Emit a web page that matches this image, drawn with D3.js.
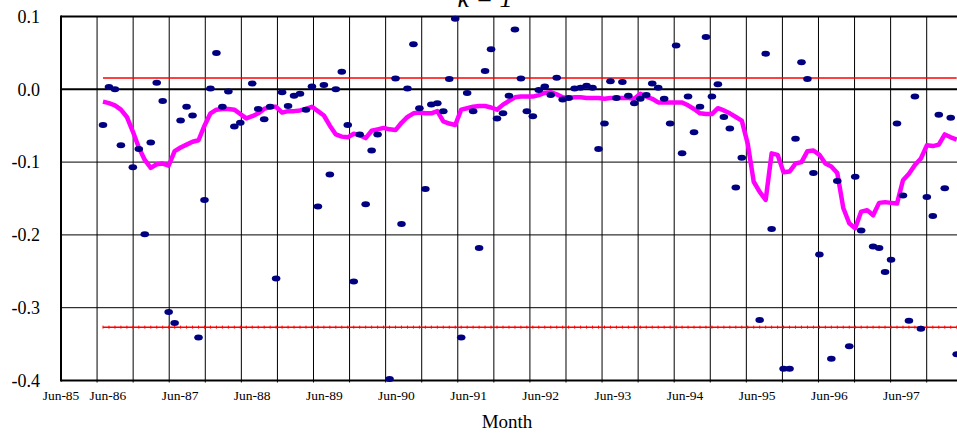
<!DOCTYPE html>
<html><head><meta charset="utf-8">
<script src="https://cdn.jsdelivr.net/npm/d3@7"></script>
<style>body{margin:0;background:#fff}svg{display:block}</style>
</head><body>
<svg id="chart" width="957" height="435"></svg>
<script>
// ---- data (monthly observations, first at Jul-86) ----
const returns = [
 -0.049, 0.003, 0.000,-0.077, null,-0.107,-0.082,-0.199,-0.073, 0.009,
 -0.016,-0.306,-0.321,-0.043,-0.024,-0.036,-0.341,-0.152, 0.001, 0.050,
 -0.024,-0.003,-0.051,-0.046, null, 0.008,-0.027,-0.041,-0.024,-0.260,
 -0.004,-0.023,-0.009,-0.006,-0.028, 0.004,-0.161, 0.006,-0.117, 0.000,
  0.024,-0.049,-0.264,-0.062,-0.158,-0.084,-0.062, null,-0.398, 0.015,
 -0.185, 0.001, 0.062,-0.026,-0.137,-0.021,-0.019,-0.030, 0.014, 0.097,
 -0.341,-0.005,-0.030,-0.218, 0.025, 0.055,-0.040,-0.033,-0.009, 0.082,
  0.015,-0.030,-0.037,-0.001, 0.004,-0.008, 0.016,-0.014,-0.012, 0.001,
  0.002, 0.005, 0.002,-0.082,-0.047, 0.011,-0.012, 0.010,-0.009,-0.019,
 -0.013,-0.008, 0.008, 0.002,-0.013,-0.047, 0.060,-0.088,-0.010,-0.059,
 -0.024, 0.072,-0.010, 0.007,-0.038,-0.054,-0.135,-0.094, null, null,
 -0.317, 0.049,-0.192, null,-0.384,-0.384,-0.068, 0.037, 0.014,-0.115,
 -0.227, null,-0.370,-0.126, null,-0.353,-0.120,-0.194, null,-0.216,
 -0.218,-0.251,-0.234,-0.047,-0.146,-0.318,-0.010,-0.329,-0.148,-0.174,
 -0.035,-0.136,-0.039,-0.364
];
const movingAverage = [
 -0.017,-0.019,-0.022,-0.028,-0.038,-0.058,-0.080,-0.097,-0.108,-0.103,
 -0.102,-0.105,-0.085,-0.080,-0.076,-0.072,-0.070,-0.050,-0.033,-0.028,
 -0.027,-0.027,-0.028,-0.034,-0.040,-0.037,-0.033,-0.027,-0.024,-0.024,
 -0.032,-0.030,-0.030,-0.029,-0.027,-0.024,-0.030,-0.036,-0.050,-0.062,
 -0.065,-0.066,-0.061,-0.063,-0.067,-0.057,-0.055,-0.053,-0.055,-0.056,
 -0.046,-0.038,-0.033,-0.032,-0.033,-0.033,-0.030,-0.044,-0.047,-0.049,
 -0.028,-0.026,-0.024,-0.023,-0.023,-0.025,-0.028,-0.021,-0.016,-0.011,
 -0.010,-0.010,-0.010,-0.008,-0.005,-0.004,-0.007,-0.011,-0.012,-0.011,
 -0.011,-0.012,-0.012,-0.012,-0.013,-0.012,-0.012,-0.012,-0.012,-0.013,
 -0.006,-0.010,-0.013,-0.018,-0.018,-0.018,-0.018,-0.018,-0.022,-0.027,
 -0.033,-0.034,-0.034,-0.026,-0.029,-0.033,-0.038,-0.043,-0.075,-0.127,
 -0.141,-0.152,-0.088,-0.090,-0.114,-0.113,-0.102,-0.100,-0.085,-0.084,
 -0.090,-0.102,-0.106,-0.115,-0.163,-0.184,-0.191,-0.168,-0.166,-0.173,
 -0.156,-0.155,-0.156,-0.157,-0.125,-0.116,-0.104,-0.095,-0.077,-0.078,
 -0.076,-0.062,-0.066,-0.069
];
const upperLimit = 0.0154;
const lowerLimit = -0.3267;
const yTicks = [0.1, 0.0, -0.1, -0.2, -0.3, -0.4];
const xTickLabels = ["Jun-85","Jun-86","Jun-87","Jun-88","Jun-89","Jun-90","Jun-91",
                     "Jun-92","Jun-93","Jun-94","Jun-95","Jun-96","Jun-97"];
const titleText = "k = 1";
const xAxisTitle = "Month";

// ---- layout ----
const svg = d3.select("#chart");
const plot = {left: 61, right: 957, top: 16.5, bottom: 380.5};
const months = returns.map((_, i) => i);
const x = d3.scaleLinear().domain([-7.035, 143.05]).range([plot.left, plot.right]);
const y = d3.scaleLinear().domain([-0.4, 0.1]).range([plot.bottom, plot.top]);
const gridStep = 6.042;            // vertical grid every half year (in month units)
const gridCount = 25;
const gridPos = d3.range(gridCount).map(k => x.domain()[0] + k * gridStep);
const labelPos = xTickLabels.map((_, k) => k === 0 ? gridPos[0] : gridPos[2 * k - 1] + 1.81);

const font = "'Liberation Serif','Times New Roman',serif";
const fmt = d => d3.format(".1f")(d).replace("\u2212", "-");

// horizontal grid
svg.append("g").selectAll("line").data(yTicks).join("line")
  .attr("x1", plot.left).attr("x2", plot.right)
  .attr("y1", d => y(d)).attr("y2", d => y(d))
  .attr("stroke", "#000")
  .attr("stroke-width", d => (d === 0 || d === 0.1 || d === -0.4) ? 2 : 1);

// vertical grid
svg.append("g").selectAll("line").data(gridPos.slice(1)).join("line")
  .attr("x1", d => x(d)).attr("x2", d => x(d))
  .attr("y1", plot.top).attr("y2", plot.bottom + 2)
  .attr("stroke", "#000").attr("stroke-width", 1);

// left axis line
svg.append("line").attr("x1", plot.left).attr("x2", plot.left)
  .attr("y1", plot.top - 1).attr("y2", plot.bottom + 1)
  .attr("stroke", "#000").attr("stroke-width", 2);

// y tick labels
svg.append("g").selectAll("text").data(yTicks).join("text")
  .attr("x", 40).attr("y", d => y(d)).attr("dy", "0.35em")
  .attr("text-anchor", "end").attr("font-family", font).attr("font-size", 18)
  .text(fmt);

// x tick labels
svg.append("g").selectAll("text").data(xTickLabels).join("text")
  .attr("x", (d, k) => x(labelPos[k])).attr("y", 399.5)
  .attr("text-anchor", "middle").attr("font-family", font).attr("font-size", 13.5)
  .text(d => d);

// axis title
svg.append("text").attr("x", 507).attr("y", 427.5).attr("text-anchor", "middle")
  .attr("font-family", font).attr("font-size", 19).text(xAxisTitle);

// chart title (partially cut off at top, as in the original)
svg.append("text").attr("x", 485).attr("y", 7).attr("text-anchor", "middle")
  .attr("font-family", font).attr("font-size", 26).attr("font-style", "italic").text(titleText);

// limit lines
const limitLine = v => d3.line().x(d => x(d)).y(() => y(v))(months);
svg.append("path").attr("d", limitLine(upperLimit)).attr("fill", "none")
  .attr("stroke", "#ff0000").attr("stroke-width", 1.5);
svg.append("path").attr("d", limitLine(lowerLimit)).attr("fill", "none")
  .attr("stroke", "#ff0000").attr("stroke-width", 1.5);
svg.append("g").selectAll("line").data(months).join("line")
  .attr("x1", d => x(d)).attr("x2", d => x(d))
  .attr("y1", y(lowerLimit) - 1.5).attr("y2", y(lowerLimit) + 1.5)
  .attr("stroke", "#ff0000").attr("stroke-width", 1);

// moving average line
svg.append("path")
  .attr("d", d3.line().x((d, i) => x(i)).y(d => y(d))(movingAverage))
  .attr("fill", "none").attr("stroke", "#ff00ff").attr("stroke-width", 4.5)
  .attr("stroke-linejoin", "round");

// dots
svg.append("g").selectAll("ellipse")
  .data(returns.map((v, i) => ({i, v})).filter(d => d.v !== null)).join("ellipse")
  .attr("cx", d => x(d.i)).attr("cy", d => y(d.v))
  .attr("rx", 4.3).attr("ry", 3).attr("fill", "#000080");
</script>
</body></html>
